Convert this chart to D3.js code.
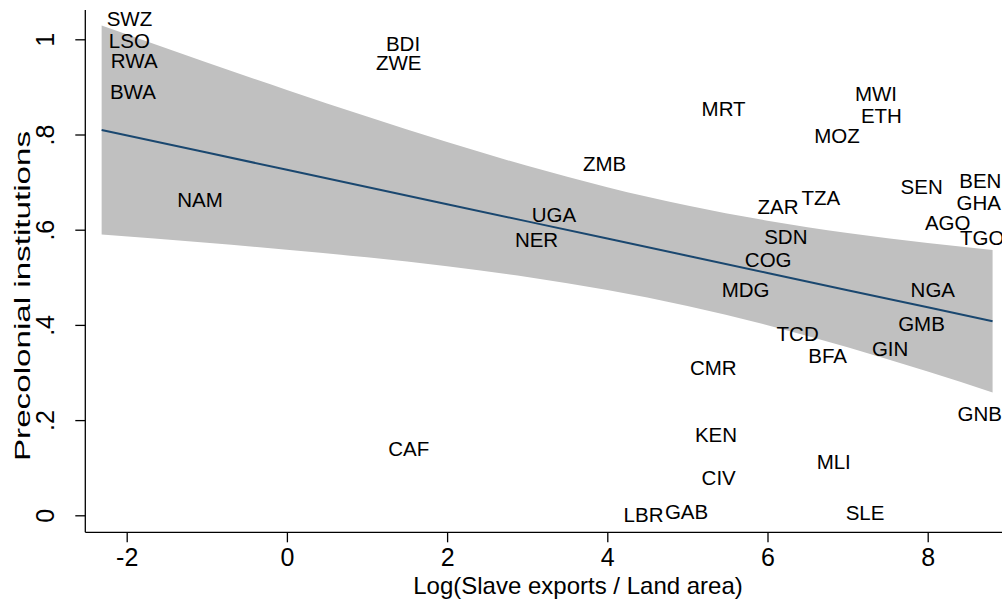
<!DOCTYPE html>
<html>
<head>
<meta charset="utf-8">
<script src="https://cdn.jsdelivr.net/npm/d3@7/dist/d3.min.js"></script>
<style>
  html, body { margin: 0; padding: 0; background: #fff; }
  svg { display: block; font-family: "Liberation Sans", Arial, Helvetica, sans-serif; }
</style>
</head>
<body>
<svg id="chart" width="1002" height="609"></svg>
<script>
// Country codes shown as marker labels
const countries = ["SWZ","LSO","RWA","BWA","NAM","BDI","ZWE","CAF","ZMB","UGA","NER","LBR","GAB",
  "MRT","CMR","KEN","CIV","MDG","COG","ZAR","SDN","TCD","TZA","BFA","MOZ","MLI","SLE","MWI","ETH",
  "GIN","GMB","SEN","NGA","AGO","GNB","GHA","BEN","TGO"];
// Log(Slave exports / Land area)
const slaveExports = [-2.313,-2.285,-2.260,-2.272,-1.432,1.174,1.049,1.202,3.633,2.993,2.784,4.141,4.657,
  5.115,4.969,5.031,5.115,5.365,5.655,5.814,5.896,6.051,6.363,6.446,6.521,6.551,6.913,7.029,7.104,
  7.241,7.569,7.599,7.724,7.903,8.311,8.298,8.331,8.340];
// Precolonial institutions
const institutions = [1.043,0.997,0.954,0.889,0.662,0.990,0.951,0.139,0.739,0.632,0.579,0.001,0.007,
  0.855,0.311,0.169,0.080,0.475,0.538,0.648,0.585,0.382,0.667,0.335,0.797,0.113,0.006,0.885,0.839,
  0.350,0.403,0.690,0.474,0.615,0.214,0.657,0.703,0.583];

// Linear fit with 95% confidence band
const fitX     = [-2.313, -1, 0, 1, 2, 3, 4, 5, 6, 7, 8, 8.81];
const fitValue = [0.8095, 0.7620, 0.7259, 0.6898, 0.6536, 0.6175, 0.5814, 0.5453, 0.5091, 0.4730, 0.4369, 0.4076];
const fitHalf  = [0.2195, 0.1894, 0.1678, 0.1479, 0.1305, 0.1167, 0.1080, 0.1055, 0.1098, 0.1201, 0.1350, 0.1495];

const xTicks = [-2, 0, 2, 4, 6, 8];
const xTickLabels = ["-2", "0", "2", "4", "6", "8"];
const yTicks = [0, 0.2, 0.4, 0.6, 0.8, 1];
const yTickLabels = ["0", ".2", ".4", ".6", ".8", "1"];

const svg = d3.select("#chart");
const x = d3.scaleLinear().domain([-2, 8]).range([126.7, 927.7]);
const y = d3.scaleLinear().domain([0, 1]).range([515.3, 39.3]);

const axisLeftX = 85.3, axisBottomY = 532.3, plotTop = 10, plotRight = 1002;

const band = fitX.map((v, i) => ({x: v, lo: fitValue[i] - fitHalf[i], hi: fitValue[i] + fitHalf[i], m: fitValue[i]}));

// Confidence band
svg.append("path")
  .datum(band)
  .attr("fill", "#c0c0c0")
  .attr("d", d3.area().x(d => x(d.x)).y0(d => y(d.lo)).y1(d => y(d.hi)).curve(d3.curveMonotoneX));

// Fitted line
svg.append("path")
  .datum(band)
  .attr("fill", "none")
  .attr("stroke", "#1a476f")
  .attr("stroke-width", 2)
  .attr("d", d3.line().x(d => x(d.x)).y(d => y(d.m)));

// Marker labels (position 3 o'clock)
const pts = countries.map((c, i) => ({c, x: slaveExports[i], y: institutions[i]}));
svg.append("g").selectAll("text")
  .data(pts).join("text")
  .attr("x", d => x(d.x) + 5)
  .attr("y", d => y(d.y) + 7.3)
  .attr("font-size", 20.5)
  .attr("fill", "#000")
  .text(d => d.c);

// Y axis
const yAxis = svg.append("g")
  .attr("transform", `translate(${axisLeftX},0)`)
  .call(d3.axisLeft(y).tickValues(yTicks).tickFormat((d, i) => yTickLabels[i]).tickSize(10).tickPadding(0));
yAxis.select(".domain").remove();
yAxis.selectAll(".tick line").attr("stroke", "#000").attr("stroke-width", 1.3);
yAxis.selectAll(".tick text")
  .attr("font-size", 25)
  .attr("font-family", "Liberation Sans, Arial, sans-serif")
  .attr("fill", "#000")
  .attr("text-anchor", "middle")
  .attr("transform", "translate(-40,0) rotate(-90)")
  .attr("x", 0).attr("dy", "0.36em");
svg.append("line").attr("x1", axisLeftX).attr("x2", axisLeftX).attr("y1", plotTop).attr("y2", axisBottomY)
  .attr("stroke", "#000").attr("stroke-width", 1.3);

// X axis
const xAxis = svg.append("g")
  .attr("transform", `translate(0,${axisBottomY})`)
  .call(d3.axisBottom(x).tickValues(xTicks).tickFormat((d, i) => xTickLabels[i]).tickSize(10).tickPadding(6));
xAxis.select(".domain").remove();
xAxis.selectAll(".tick line").attr("stroke", "#000").attr("stroke-width", 1.3);
xAxis.selectAll(".tick text")
  .attr("font-size", 25)
  .attr("font-family", "Liberation Sans, Arial, sans-serif")
  .attr("fill", "#000");
svg.append("line").attr("x1", axisLeftX).attr("x2", plotRight).attr("y1", axisBottomY).attr("y2", axisBottomY)
  .attr("stroke", "#000").attr("stroke-width", 1.3);

// Axis titles
svg.append("text")
  .attr("x", 578).attr("y", 594)
  .attr("text-anchor", "middle")
  .attr("font-size", 24)
  .text("Log(Slave exports / Land area)");
svg.append("text")
  .attr("transform", "translate(30,296) rotate(-90)")
  .attr("text-anchor", "middle")
  .attr("font-size", 22)
  .attr("textLength", 330)
  .attr("lengthAdjust", "spacingAndGlyphs")
  .text("Precolonial institutions");
</script>
</body>
</html>
